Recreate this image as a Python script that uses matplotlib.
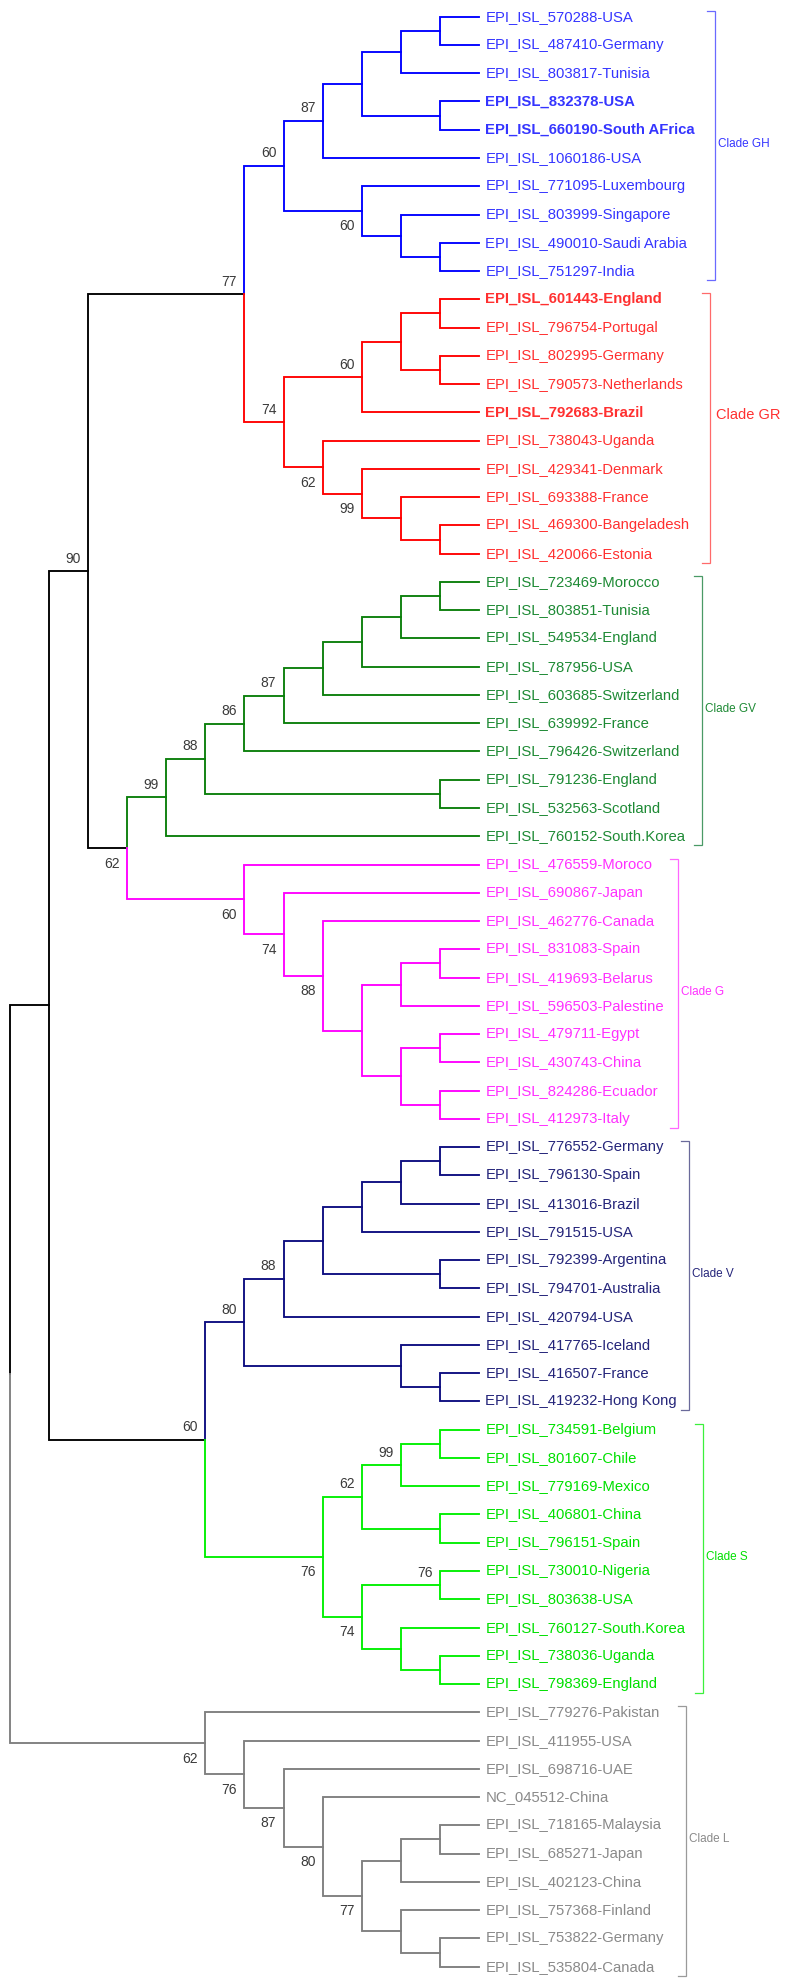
import matplotlib
matplotlib.use("Agg")
import matplotlib.pyplot as plt
from matplotlib.collections import LineCollection

plt.rcParams['font.family'] = ['Liberation Sans', 'DejaVu Sans']

# ---------------- data ----------------
clade_keys = ["GH", "GR", "GV", "G", "V", "S", "L"]
clade_titles = ["Clade GH", "Clade GR", "Clade GV", "Clade G", "Clade V", "Clade S", "Clade L"]

leaves_GH = ["EPI_ISL_570288-USA", "EPI_ISL_487410-Germany", "EPI_ISL_803817-Tunisia",
             "EPI_ISL_832378-USA", "EPI_ISL_660190-South AFrica", "EPI_ISL_1060186-USA",
             "EPI_ISL_771095-Luxembourg", "EPI_ISL_803999-Singapore",
             "EPI_ISL_490010-Saudi Arabia", "EPI_ISL_751297-India"]
leaves_GR = ["EPI_ISL_601443-England", "EPI_ISL_796754-Portugal", "EPI_ISL_802995-Germany",
             "EPI_ISL_790573-Netherlands", "EPI_ISL_792683-Brazil", "EPI_ISL_738043-Uganda",
             "EPI_ISL_429341-Denmark", "EPI_ISL_693388-France", "EPI_ISL_469300-Bangeladesh",
             "EPI_ISL_420066-Estonia"]
leaves_GV = ["EPI_ISL_723469-Morocco", "EPI_ISL_803851-Tunisia", "EPI_ISL_549534-England",
             "EPI_ISL_787956-USA", "EPI_ISL_603685-Switzerland", "EPI_ISL_639992-France",
             "EPI_ISL_796426-Switzerland", "EPI_ISL_791236-England", "EPI_ISL_532563-Scotland",
             "EPI_ISL_760152-South.Korea"]
leaves_G = ["EPI_ISL_476559-Moroco", "EPI_ISL_690867-Japan", "EPI_ISL_462776-Canada",
            "EPI_ISL_831083-Spain", "EPI_ISL_419693-Belarus", "EPI_ISL_596503-Palestine",
            "EPI_ISL_479711-Egypt", "EPI_ISL_430743-China", "EPI_ISL_824286-Ecuador",
            "EPI_ISL_412973-Italy"]
leaves_V = ["EPI_ISL_776552-Germany", "EPI_ISL_796130-Spain", "EPI_ISL_413016-Brazil",
            "EPI_ISL_791515-USA", "EPI_ISL_792399-Argentina", "EPI_ISL_794701-Australia",
            "EPI_ISL_420794-USA", "EPI_ISL_417765-Iceland", "EPI_ISL_416507-France",
            "EPI_ISL_419232-Hong Kong"]
leaves_S = ["EPI_ISL_734591-Belgium", "EPI_ISL_801607-Chile", "EPI_ISL_779169-Mexico",
            "EPI_ISL_406801-China", "EPI_ISL_796151-Spain", "EPI_ISL_730010-Nigeria",
            "EPI_ISL_803638-USA", "EPI_ISL_760127-South.Korea", "EPI_ISL_738036-Uganda",
            "EPI_ISL_798369-England"]
leaves_L = ["EPI_ISL_779276-Pakistan", "EPI_ISL_411955-USA", "EPI_ISL_698716-UAE",
            "NC_045512-China", "EPI_ISL_718165-Malaysia", "EPI_ISL_685271-Japan",
            "EPI_ISL_402123-China", "EPI_ISL_757368-Finland", "EPI_ISL_753822-Germany",
            "EPI_ISL_535804-Canada"]

# topology (leaf indices within clade) with bootstrap support values
newick_GH = "(((((0,1),2),(3,4)),5)87,(6,(7,(8,9)))60)60"
newick_GR = "((((0,1),(2,3)),4)60,(5,(6,(7,(8,9)))99)62)74"
newick_GV = "((((((((0,1),2),3),4),5)87,6)86,(7,8))88,9)99"
newick_G = "(0,(1,(2,(((3,4),5),((6,7),(8,9))))88)74)60"
newick_V = "((((((0,1),2),3),(4,5)),6)88,(7,(8,9)))80"
newick_S = "((((0,1),2)99,(3,4))62,((5,6)76,(7,(8,9)))74)76"
newick_L = "(0,(1,(2,(3,(((4,5),6),(7,(8,9)))77)80)87)76)62"
newick_backbone = "((((GH,GR)77,(GV,G)62)90,(V,S)60),L)"

bold_leaves = ["EPI_ISL_832378-USA", "EPI_ISL_660190-South AFrica",
               "EPI_ISL_601443-England", "EPI_ISL_792683-Brazil"]

# ---------------- style ----------------
line_colors = {"GH": "#0000ff", "GR": "#ff0000", "GV": "#0a7f0a", "G": "#ff00ff",
               "V": "#0c0c80", "S": "#00f000", "L": "#7f7f7f", None: "#000000"}
text_colors = {"GH": "#3535ff", "GR": "#ff3030", "GV": "#1e8a35", "G": "#ff30ff",
               "V": "#25257a", "S": "#00e000", "L": "#8a8a8a"}
bracket_colors = {"GH": "#6a6aff", "GR": "#ff6a6a", "GV": "#4a9a66", "G": "#ff66ff",
                  "V": "#6a6a9a", "S": "#3cf03c", "L": "#9a9a9a"}
# label side in pre-order of supported nodes: a=above, b=below
label_sides = {"GH": "aab", "GR": "aabb", "GV": "aaaa", "G": "bbb", "V": "aa",
               "S": "baaba", "L": "bbbbb", "backbone": "aaba"}
bracket_x_px = {"GH": 715, "GR": 710, "GV": 702, "G": 678, "V": 689, "S": 703, "L": 686}
title_dx_px = {"GH": 3, "GR": 6, "GV": 3, "G": 3, "V": 3, "S": 3, "L": 3}
title_dy_px = {"GH": 0, "GR": -11, "GV": 0, "G": 0, "V": 0, "S": 0, "L": 0}
title_size = {"GH": 8.5, "GR": 10.5, "GV": 8.5, "G": 8.5, "V": 8.5, "S": 8.5, "L": 8.5}

W, H, DPI = 790, 1984, 100
X0_PX, DX_PX = 10.0, 39.08      # level 0 -> px, px per level
Y0_PX, DY_PX = 16.7, 28.26      # leaf 0 -> px, px per leaf
PT = 72.0 / DPI                 # points per pixel


def parse(s):
    pos = 0

    def node():
        nonlocal pos
        if s[pos] == '(':
            pos += 1
            children = [node()]
            while s[pos] == ',':
                pos += 1
                children.append(node())
            pos += 1  # ')'
            st = pos
            while pos < len(s) and s[pos] not in ',()':
                pos += 1
            return {"children": children, "support": s[st:pos], "side": None}
        st = pos
        while pos < len(s) and s[pos] not in ',()':
            pos += 1
        return {"name": s[st:pos]}
    return node()


def preorder(n):
    yield n
    for c in n.get("children", []):
        yield from preorder(c)


def assign_sides(tree, sides):
    supported = [n for n in preorder(tree) if "children" in n and n["support"]]
    for n, sd in zip(supported, sides):
        n["side"] = sd


clade_leaves = dict(zip(clade_keys, [leaves_GH, leaves_GR, leaves_GV, leaves_G,
                                     leaves_V, leaves_S, leaves_L]))
clade_newick = dict(zip(clade_keys, [newick_GH, newick_GR, newick_GV, newick_G,
                                     newick_V, newick_S, newick_L]))

clade_trees = {}
for k in clade_keys:
    t = parse(clade_newick[k])
    assign_sides(t, label_sides[k])
    for n in preorder(t):
        n["clade"] = k
        if "name" in n:
            n["name"] = clade_leaves[k][int(n["name"])]
    clade_trees[k] = t

root = parse(newick_backbone)
assign_sides(root, label_sides["backbone"])


def substitute(n):
    if "children" in n:
        n["clade"] = None
        n["children"] = [substitute(c) for c in n["children"]]
        return n
    return clade_trees[n["name"]]


root = substitute(root)

# layout
leaf_counter = [0]


def layout(n):
    if "children" not in n:
        n["h"] = 0
        n["y"] = leaf_counter[0]
        leaf_counter[0] += 1
        return
    for c in n["children"]:
        layout(c)
    n["h"] = 1 + max(c["h"] for c in n["children"])
    n["y"] = 0.5 * (n["children"][0]["y"] + n["children"][-1]["y"])


layout(root)
HMAX = root["h"]
for n in preorder(root):
    n["x"] = HMAX - n["h"]

fig = plt.figure(figsize=(W / DPI, H / DPI), dpi=DPI)
ax = fig.add_axes([0, 0, 1, 1])
ax.set_xlim(-X0_PX / DX_PX, (W - X0_PX) / DX_PX)
ax.set_ylim((H - Y0_PX) / DY_PX, -Y0_PX / DY_PX)
ax.axis("off")

segs, cols = [], []
for n in preorder(root):
    if "children" not in n:
        continue
    for c in n["children"]:
        segs.append([(n["x"], n["y"]), (n["x"], c["y"]), (c["x"], c["y"])])
        cols.append(line_colors[c["clade"]])
ax.add_collection(LineCollection(segs, colors=cols, linewidths=1.35,
                                 capstyle="projecting", joinstyle="miter"))

# bootstrap values
for n in preorder(root):
    if "children" in n and n["support"]:
        dy = 13.5 if n["side"] == "a" else -14.5
        ax.annotate(n["support"], xy=(n["x"], n["y"]),
                    xytext=(-15 * PT, (dy - 5) * PT + 0), textcoords="offset points",
                    ha="center", va="baseline", fontsize=10, color="#3a3a3a")

# leaf labels
for n in preorder(root):
    if "children" in n:
        continue
    bold = n["name"] in bold_leaves
    tc = text_colors[n["clade"]]
    ax.annotate(n["name"], xy=(n["x"], n["y"]), xytext=(6.5 * PT, -4 * PT),
                textcoords="offset points", ha="left", va="baseline",
                fontsize=10.7, color=tc, fontweight="bold" if bold else "normal")

# clade brackets
for k, title in zip(clade_keys, clade_titles):
    ys = [n["y"] for n in preorder(clade_trees[k]) if "children" not in n]
    top = min(ys) - 6 / DY_PX
    bot = max(ys) + 9 / DY_PX
    bx = (bracket_x_px[k] - X0_PX) / DX_PX
    tick = 8 / DX_PX
    ax.plot([bx - tick, bx, bx, bx - tick], [top, top, bot, bot],
            color=bracket_colors[k], lw=0.9, solid_joinstyle="miter")
    ymid = 0.5 * (min(ys) + max(ys)) + title_dy_px[k] / DY_PX
    ax.annotate(title, xy=(bx, ymid), xytext=(title_dx_px[k] * PT, 0),
                textcoords="offset points", ha="left", va="center",
                fontsize=title_size[k], color=text_colors[k])

fig.savefig("out.png", dpi=DPI, facecolor="white")
